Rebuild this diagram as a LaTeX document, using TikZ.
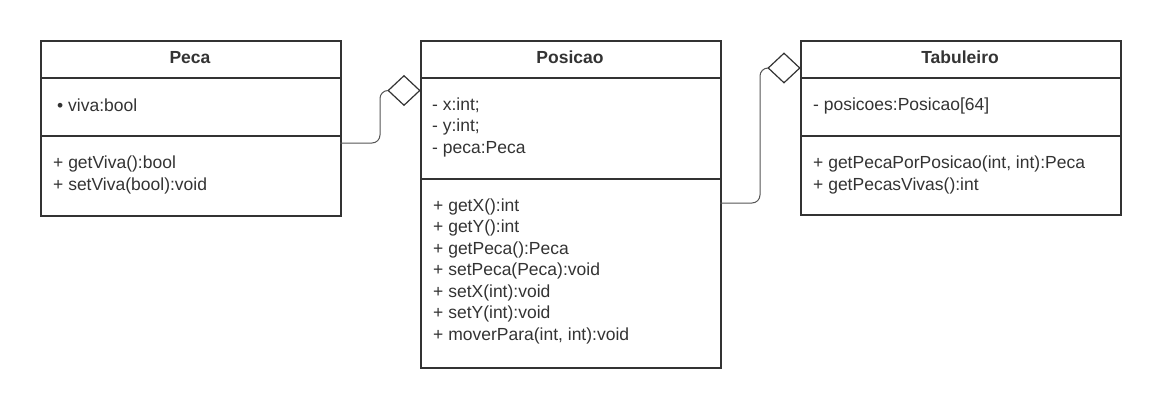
\documentclass[tikz,border=0pt]{standalone}
\usepackage{fontspec}
\setmainfont{Liberation Sans}
\usetikzlibrary{shapes.geometric}
\definecolor{ln}{HTML}{333333}
\definecolor{cn}{HTML}{555555}
\begin{document}
\begin{tikzpicture}[x=1pt,y=-1pt,
  box/.style={draw=ln,line width=2pt,inner sep=0pt,anchor=north west},
  sep/.style={draw=ln,line width=2pt},
  title/.style={font=\fontsize{17.5}{20}\selectfont\bfseries,text=ln,anchor=base,inner sep=0pt},
  txt/.style={font=\fontsize{17.5}{20}\selectfont,text=ln,anchor=base west,inner sep=0pt},
  agg/.style={draw=ln,line width=1.2pt,fill=white,shape=diamond,minimum width=32pt,minimum height=30pt,inner sep=0pt},
  conn/.style={draw=cn,line width=1pt,rounded corners=8pt}]
\useasboundingbox (0,0) rectangle (1160,407);
% boxes
\node[box,minimum width=300pt,minimum height=175pt] (peca) at (40,40) {};
\node[box,minimum width=300pt,minimum height=327pt] (pos) at (420,40) {};
\node[box,minimum width=320pt,minimum height=174pt] (tab) at (800,40) {};
% separators
\draw[sep] (40,77.5) -- (340,77.5);
\draw[sep] (40,136) -- (340,136);
\draw[sep] (420,77.5) -- (720,77.5);
\draw[sep] (420,179) -- (720,179);
\draw[sep] (800,77.5) -- (1120,77.5);
\draw[sep] (800,136) -- (1120,136);
% titles
\node[title] (tpeca) at (190,63.5) {Peca};
\node[title] (tpos) at (570,63.5) {Posicao};
\node[title] (ttab) at (960,63.5) {Tabuleiro};
% Peca
\node[txt] (pa1) at (57,111) {• viva:bool};
\node[txt] (pm1) at (53,168.5) {+ getViva():bool};
\node[txt] (pm2) at (53,190) {+ setViva(bool):void};
% Posicao
\foreach \t [count=\i] in {- x:int;,- y:int;,- peca:Peca}
  \node[txt] (posa\i) at (432,{110+21.5*(\i-1)}) {\t};
\foreach \t [count=\i] in {+ getX():int,+ getY():int,+ getPeca():Peca,+ setPeca(Peca):void,+ setX(int):void,+ setY(int):void,{+ moverPara(int, int):void}}
  \node[txt] (posm\i) at (433,{211+21.5*(\i-1)}) {\t};
% Tabuleiro
\node[txt] (ta1) at (813,110) {- posicoes:Posicao[64]};
\node[txt] (tm1) at (813,168.5) {+ getPecaPorPosicao(int, int):Peca};
\node[txt] (tm2) at (813,190) {+ getPecasVivas():int};
% aggregation diamonds
\node[agg] (d1) at (404,90.5) {};
\node[agg] (d2) at (784,68) {};
% connectors
\coordinate (c1) at (340,143);
\coordinate (c2) at (720,203);
\draw[conn] (c1) -- (380,143) -- (380,90.5) -- (d1.west);
\draw[conn] (c2) -- (760,203) -- (760,68) -- (d2.west);
\end{tikzpicture}
\end{document}
